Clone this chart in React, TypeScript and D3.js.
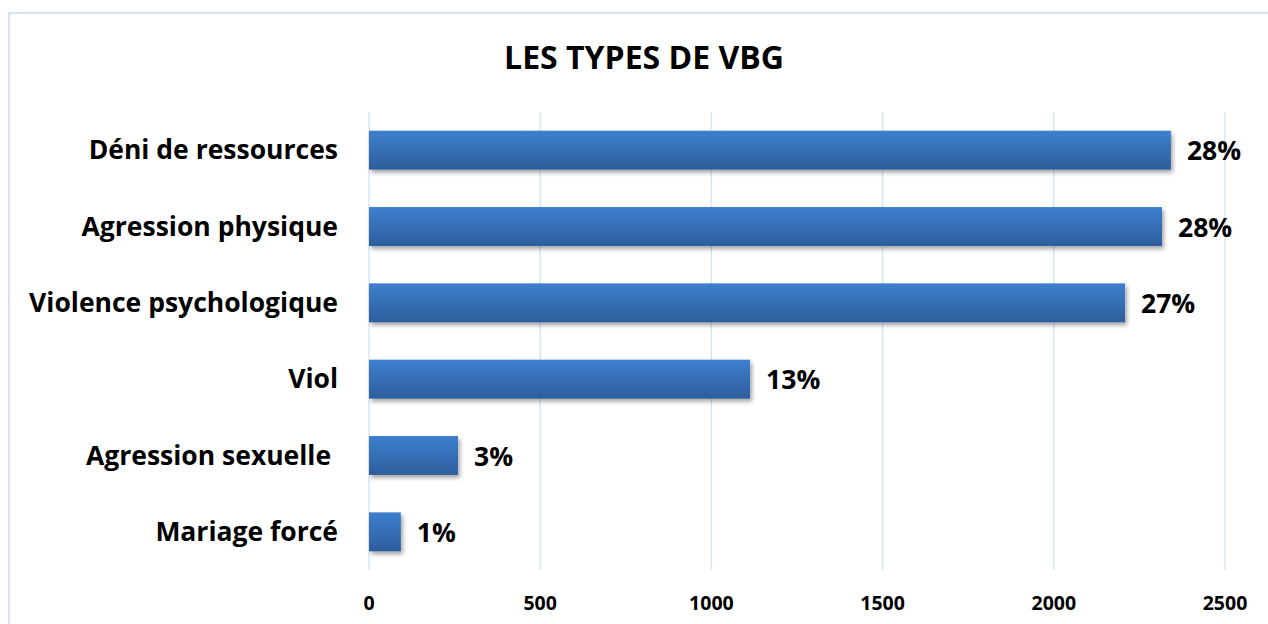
import * as d3 from "d3";

const categories = [
  "Déni de ressources",
  "Agression physique",
  "Violence psychologique",
  "Viol",
  "Agression sexuelle ",
  "Mariage forcé",
];
const counts = [2342, 2316, 2208, 1113, 260, 93];
const percentLabels = ["28%", "28%", "27%", "13%", "3%", "1%"];
const xTicks = [0, 500, 1000, 1500, 2000, 2500];

const WIDTH = 1268;
const HEIGHT = 624;
const PLOT = { left: 369, right: 1225, top: 112, bottom: 570 };
const FONT = "'Open Sans', Lato, sans-serif";

export default function App() {
  const x = d3.scaleLinear().domain([0, 2500]).range([PLOT.left, PLOT.right]);
  const y = d3
    .scaleBand<string>()
    .domain(categories)
    .range([PLOT.top, PLOT.bottom])
    .paddingInner(0.49)
    .paddingOuter(0.245);
  const bh = y.bandwidth();

  return (
    <div style={{ position: "absolute", left: 0, top: 0 }}>
      <svg width={WIDTH} height={HEIGHT} style={{ display: "block", fontFamily: FONT }}>
        <defs>
          <linearGradient id="barFill" x1="0" y1="0" x2="0" y2="1">
            <stop offset="0%" stopColor="#3e7fcf" />
            <stop offset="100%" stopColor="#2d5e9c" />
          </linearGradient>
          <filter id="shadow" x="-10%" y="-30%" width="130%" height="180%">
            <feDropShadow dx={2} dy={3} stdDeviation={2.2} floodColor="#000" floodOpacity={0.35} />
          </filter>
        </defs>

        <rect width={WIDTH} height={HEIGHT} fill="#fff" />
        {/* chart area frame, only top and left edges are in view */}
        <path d={`M9,${HEIGHT} V13 H${WIDTH}`} fill="none" stroke="#d5e2f3" strokeWidth={2} />

        <text
          x={644}
          y={69}
          textAnchor="middle"
          fontWeight={700}
          fontSize={32}
          fill="#000"
        >
          LES TYPES DE VBG
        </text>

        {xTicks.map((t) => (
          <g key={t}>
            <line
              x1={x(t)}
              x2={x(t)}
              y1={PLOT.top}
              y2={PLOT.bottom}
              stroke="#d9e5f4"
              strokeWidth={1.5}
            />
            <text
              x={x(t)}
              y={610}
              textAnchor="middle"
              fontWeight={700}
              fontSize={19.5}
              fill="#000"
            >
              {t}
            </text>
          </g>
        ))}

        {categories.map((c, i) => {
          const y0 = y(c) ?? 0;
          return (
            <g key={c}>
              <rect
                x={x(0)}
                y={y0}
                width={x(counts[i]) - x(0)}
                height={bh}
                fill="url(#barFill)"
                filter="url(#shadow)"
              />
              <text
                x={338}
                y={y0 + bh / 2}
                dy="0.35em"
                textAnchor="end"
                fontWeight={700}
                fontSize={26.5}
                fill="#000"
                style={{ whiteSpace: "pre" }}
              >
                {c}
              </text>
              <text
                x={x(counts[i]) + 16}
                y={y0 + bh / 2}
                dy="0.38em"
                fontWeight={700}
                fontSize={26.5}
                fill="#000"
              >
                {percentLabels[i]}
              </text>
            </g>
          );
        })}
      </svg>
    </div>
  );
}
